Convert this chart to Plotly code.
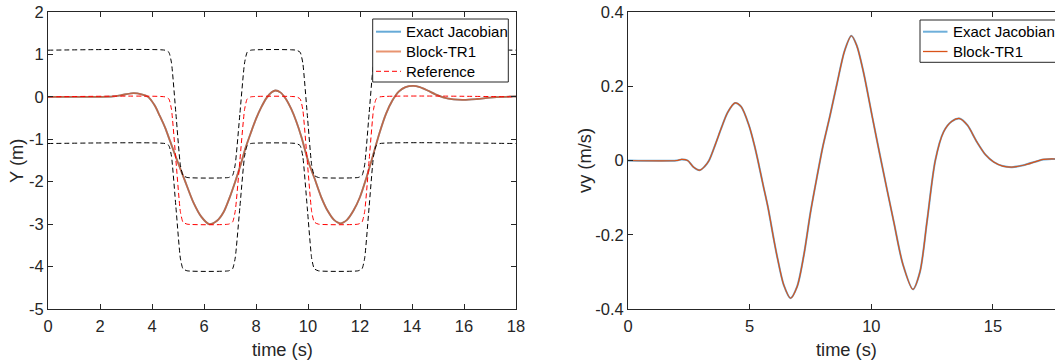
import plotly.graph_objects as go

# ---------------- data: left panel (lateral position Y) ----------------
t_y = [0, 1.5, 2.0, 2.5, 2.9, 3.3, 3.6, 3.85, 4.1, 4.3, 4.5, 4.7, 4.95, 5.25, 5.6,
       5.9, 6.2, 6.5, 6.75, 7.0, 7.2, 7.4, 7.6, 7.8, 8.0, 8.2, 8.4, 8.6, 8.75, 8.95,
       9.15, 9.35, 9.55, 9.75, 10.0, 10.25, 10.5, 10.75, 11.0, 11.25, 11.5, 11.75,
       12.0, 12.25, 12.5, 12.75, 13.0, 13.25, 13.5, 13.75, 14.05, 14.3, 14.6, 14.9,
       15.2, 15.6, 16.0, 16.5, 17.0, 17.5, 18.0]
y_exact = [0, 0, 0.0, 0.01, 0.05, 0.09, 0.06, 0.0, -0.2, -0.45, -0.72, -1.05, -1.47,
           -1.95, -2.5, -2.83, -3.0, -2.92, -2.72, -2.35, -2.0, -1.62, -1.2, -0.85,
           -0.52, -0.25, -0.03, 0.11, 0.15, 0.1, -0.05, -0.28, -0.58, -0.95, -1.5,
           -1.92, -2.35, -2.68, -2.9, -2.98, -2.9, -2.68, -2.36, -1.9, -1.38, -0.85,
           -0.4, -0.08, 0.13, 0.23, 0.26, 0.23, 0.15, 0.06, -0.01, -0.06, -0.07,
           -0.05, -0.02, 0.0, 0.01]
y_block = [0, 0, 0.0, 0.01, 0.05, 0.09, 0.06, 0.0, -0.2, -0.45, -0.72, -1.05, -1.47,
           -1.95, -2.5, -2.83, -3.0, -2.92, -2.72, -2.35, -2.0, -1.62, -1.2, -0.85,
           -0.52, -0.25, -0.03, 0.11, 0.15, 0.1, -0.05, -0.28, -0.58, -0.95, -1.5,
           -1.92, -2.35, -2.68, -2.9, -2.98, -2.9, -2.68, -2.36, -1.9, -1.38, -0.85,
           -0.4, -0.08, 0.13, 0.23, 0.26, 0.23, 0.15, 0.06, -0.01, -0.06, -0.07,
           -0.05, -0.02, 0.0, 0.01]

t_ref = [0, 4.5, 4.65, 4.75, 4.92, 5.09, 5.19, 5.35, 6.95, 7.1, 7.2, 7.38, 7.56, 7.66,
         7.8, 9.55, 9.7, 9.8, 9.97, 10.14, 10.24, 10.4, 11.93, 12.08, 12.18, 12.35,
         12.52, 12.62, 12.77, 18]
y_ref = [0, 0, -0.05, -0.3, -1.5, -2.7, -2.95, -3.0, -3.0, -2.95, -2.7, -1.5, -0.3,
         -0.05, 0, 0, -0.05, -0.3, -1.5, -2.7, -2.95, -3.0, -3.0, -2.95, -2.7, -1.5,
         -0.3, -0.05, 0, 0]
y_upper = [1.1, 1.1, 1.05, 0.8, -0.4, -1.6, -1.85, -1.9, -1.9, -1.85, -1.6, -0.4, 0.8,
           1.05, 1.1, 1.1, 1.05, 0.8, -0.4, -1.6, -1.85, -1.9, -1.9, -1.85, -1.6, -0.4,
           0.8, 1.05, 1.1, 1.1]
y_lower = [-1.1, -1.1, -1.15, -1.4, -2.6, -3.8, -4.05, -4.1, -4.1, -4.05, -3.8, -2.6,
           -1.4, -1.15, -1.1, -1.1, -1.15, -1.4, -2.6, -3.8, -4.05, -4.1, -4.1, -4.05,
           -3.8, -2.6, -1.4, -1.15, -1.1, -1.1]

# ---------------- data: right panel (lateral velocity vy) ----------------
t_v = [0, 2.0, 2.2, 2.45, 2.7, 2.95, 3.15, 3.33, 3.6, 3.85, 4.1, 4.4, 4.65, 4.97, 5.2,
       5.34, 5.55, 5.75, 6.0, 6.15, 6.4, 6.68, 6.95, 7.23, 7.5, 7.75, 8.0, 8.3, 8.6,
       8.9, 9.18, 9.4, 9.68, 10.03, 10.4, 10.92, 11.3, 11.71, 12.0, 12.29, 12.63,
       12.97, 13.3, 13.63, 13.95, 14.34, 14.7, 15.03, 15.4, 15.78, 16.3, 17.08, 17.6]
vy_exact = [0, 0, 0.003, 0.0, -0.018, -0.026, -0.016, 0.0, 0.045, 0.09, 0.13, 0.155,
            0.145, 0.095, 0.04, 0.0, -0.065, -0.125, -0.215, -0.265, -0.335, -0.371,
            -0.34, -0.254, -0.14, -0.05, 0.035, 0.12, 0.21, 0.295, 0.336, 0.31, 0.2375,
            0.121, 0.0, -0.164, -0.28, -0.347, -0.3, -0.164, 0.0, 0.077, 0.105, 0.113,
            0.095, 0.05, 0.015, -0.004, -0.015, -0.018, -0.012, 0.003, 0.004]
vy_block = [0, 0, 0.003, 0.0, -0.018, -0.026, -0.016, 0.0, 0.045, 0.09, 0.13, 0.155,
            0.145, 0.095, 0.04, 0.0, -0.065, -0.125, -0.215, -0.265, -0.335, -0.371,
            -0.34, -0.254, -0.14, -0.05, 0.035, 0.12, 0.21, 0.295, 0.336, 0.31, 0.2375,
            0.121, 0.0, -0.164, -0.28, -0.347, -0.3, -0.164, 0.0, 0.077, 0.105, 0.113,
            0.095, 0.05, 0.015, -0.004, -0.015, -0.018, -0.012, 0.003, 0.004]

# ---------------- tick labels / legend entries ----------------
x1_ticks = [0, 2, 4, 6, 8, 10, 12, 14, 16, 18]
x1_text = ["0", "2", "4", "6", "8", "10", "12", "14", "16", "18"]
y1_ticks = [-5, -4, -3, -2, -1, 0, 1, 2]
y1_text = ["-5", "-4", "-3", "-2", "-1", "0", "1", "2"]
x2_ticks = [0, 5, 10, 15]
x2_text = ["0", "5", "10", "15"]
y2_ticks = [-0.4, -0.2, 0, 0.2, 0.4]
y2_text = ["-0.4", "-0.2", "0", "0.2", "0.4"]
legend_left = ["Exact Jacobian", "Block-TR1", "Reference"]
legend_right = ["Exact Jacobian", "Block-TR1"]

W, H = 1055, 363
FONT = "Liberation Sans, Arial, Helvetica, sans-serif"
INK = "#262626"
BLUE_A = "rgba(0,114,189,0.6)"
ORANGE_A = "rgba(217,83,25,0.75)"
ORANGE = "#D95319"
DASH = "5px,3px"

fig = go.Figure()

# left panel
fig.add_trace(go.Scatter(x=t_y, y=y_exact, mode="lines", name=legend_left[0],
                         line=dict(color=BLUE_A, width=1.8, shape="spline", smoothing=0.8),
                         xaxis="x", yaxis="y"))
fig.add_trace(go.Scatter(x=t_y, y=y_block, mode="lines", name=legend_left[1],
                         line=dict(color=ORANGE_A, width=1.8, shape="spline", smoothing=0.8),
                         xaxis="x", yaxis="y"))
fig.add_trace(go.Scatter(x=t_ref, y=y_ref, mode="lines", name=legend_left[2],
                         line=dict(color="#FF0000", width=1, dash=DASH,
                                   shape="spline", smoothing=0.5),
                         xaxis="x", yaxis="y"))
fig.add_trace(go.Scatter(x=t_ref, y=y_upper, mode="lines", name="upper bound",
                         line=dict(color="#000000", width=1, dash=DASH,
                                   shape="spline", smoothing=0.5),
                         xaxis="x", yaxis="y"))
fig.add_trace(go.Scatter(x=t_ref, y=y_lower, mode="lines", name="lower bound",
                         line=dict(color="#000000", width=1, dash=DASH,
                                   shape="spline", smoothing=0.5),
                         xaxis="x", yaxis="y"))

# right panel
fig.add_trace(go.Scatter(x=t_v, y=vy_exact, mode="lines", name=legend_right[0],
                         line=dict(color=BLUE_A, width=2, shape="spline", smoothing=0.8),
                         xaxis="x2", yaxis="y2"))
fig.add_trace(go.Scatter(x=t_v, y=vy_block, mode="lines", name=legend_right[1],
                         line=dict(color=ORANGE, width=1.2, shape="spline", smoothing=0.8),
                         xaxis="x2", yaxis="y2"))

ydom = [(H - 309) / H, (H - 12) / H]
axis_common = dict(showgrid=False, zeroline=False, showline=True, linecolor=INK,
                   linewidth=1, ticks="inside", ticklen=5, tickcolor=INK, tickwidth=1,
                   tickfont=dict(family=FONT, size=16.5, color=INK), automargin=False)


def px_x(v):
    return v / W


def px_y(v):
    return (H - v) / H


shapes = []
annotations = []


def add_legend(left, top, bottom, right, sample_x0, sample_x1, text_x, rows, styles):
    shapes.append(dict(type="rect", xref="paper", yref="paper", x0=px_x(left),
                       x1=px_x(right), y0=px_y(bottom), y1=px_y(top),
                       line=dict(color=INK, width=1), fillcolor="white", layer="above"))
    for (label, yc), st in zip(rows, styles):
        shapes.append(dict(type="line", xref="paper", yref="paper", x0=px_x(sample_x0),
                           x1=px_x(sample_x1), y0=px_y(yc), y1=px_y(yc),
                           line=st, layer="above"))
        annotations.append(dict(text=label, x=px_x(text_x), y=px_y(yc), xref="paper",
                                yref="paper", xanchor="left", yanchor="middle",
                                showarrow=False,
                                font=dict(family=FONT, size=15, color="#000000")))


add_legend(372.7, 19, 82, 508.3, 376, 401, 403.5,
           [(legend_left[0], 31.7), (legend_left[1], 51.5), (legend_left[2], 71.3)],
           [dict(color="rgb(102,170,215)", width=2),
            dict(color="rgb(232,148,112)", width=2),
            dict(color="#FF0000", width=1, dash=DASH)])
add_legend(920, 20, 62.3, 1075, 923, 947.5, 951,
           [(legend_right[0], 31.7), (legend_right[1], 51.5)],
           [dict(color="rgb(110,175,218)", width=2),
            dict(color=ORANGE, width=1.3)])

axis_titles = [("time (s)", 282, 349, 0), ("time (s)", 846.5, 349, 0),
               ("Y (m)", 16, 161, -90), ("vy (m/s)", 584, 161, -90)]
for txt, ax, ay, ang in axis_titles:
    annotations.append(dict(text=txt, x=px_x(ax), y=px_y(ay), xref="paper", yref="paper",
                            xanchor="center", yanchor="middle", showarrow=False,
                            textangle=ang, font=dict(family=FONT, size=18.3, color=INK)))

fig.update_layout(
    width=W, height=H,
    margin=dict(l=0, r=0, t=0, b=0),
    paper_bgcolor="white", plot_bgcolor="white",
    showlegend=False,
    xaxis=dict(domain=[48 / W, 516 / W], range=[0, 18], tickmode="array",
               tickvals=x1_ticks, ticktext=x1_text, mirror="ticks", anchor="y",
               ticklabelstandoff=2, **axis_common),
    yaxis=dict(domain=ydom, range=[-5, 2], tickmode="array", tickvals=y1_ticks,
               ticktext=y1_text, mirror="ticks", anchor="x", **axis_common),
    xaxis2=dict(domain=[628 / W, 1.0], range=[0, (W - 628) / 24.33], tickmode="array",
                tickvals=x2_ticks, ticktext=x2_text, mirror="ticks", anchor="y2",
                ticklabelstandoff=2, **axis_common),
    yaxis2=dict(domain=ydom, range=[-0.4, 0.4], tickmode="array", tickvals=y2_ticks,
                ticktext=y2_text, mirror=False, anchor="x2", **axis_common),
    shapes=shapes,
    annotations=annotations,
)

fig.write_html("out.html", config={"displayModeBar": False},
               post_script="document.body.style.margin='0px';"
                           "document.body.style.overflow='hidden';")
